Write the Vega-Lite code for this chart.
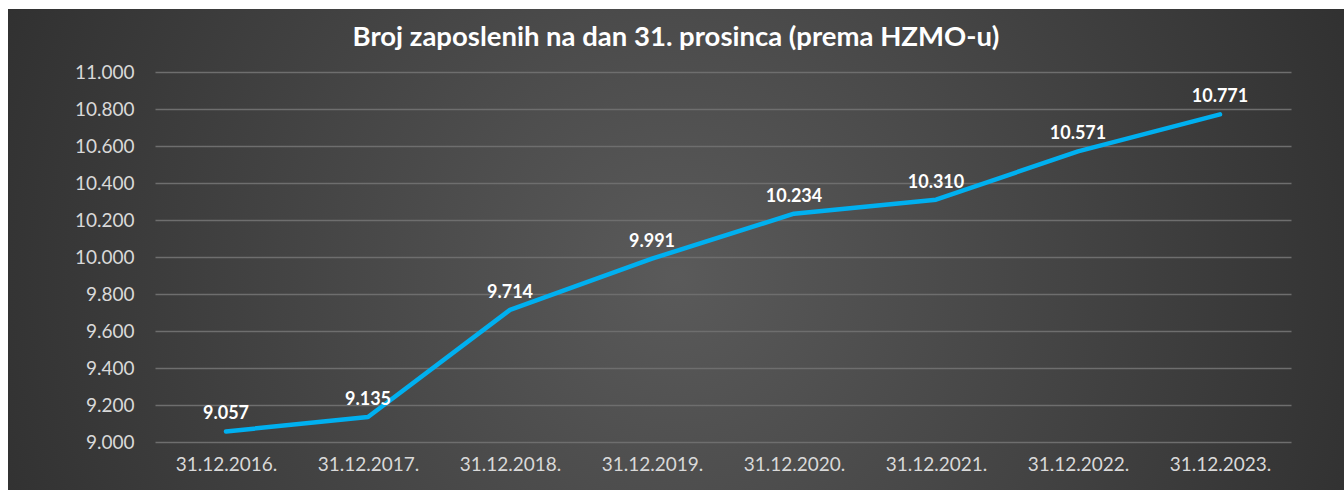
{
  "$schema": "https://vega.github.io/schema/vega-lite/v6.json",
  "width": 1336,
  "height": 481,
  "autosize": "none",
  "padding": {"left": 8, "top": 9, "right": 0, "bottom": 0},
  "background": "white",
  "config": {
    "locale": {"number": {"decimal": ",", "thousands": ".", "grouping": [3], "currency": ["", " €"]}},
    "view": {
      "stroke": null,
      "fill": {
        "gradient": "radial",
        "x1": 0.5, "y1": 0.52, "x2": 0.5, "y2": 0.52, "r1": 0, "r2": 0.75,
        "stops": [{"offset": 0, "color": "#5a5a5a"}, {"offset": 1, "color": "#212121"}]
      }
    },
    "font": "Lato"
  },
  "title": {
    "text": "Broj zaposlenih na dan 31. prosinca (prema HZMO-u)",
    "font": "Lato",
    "fontSize": 27.5,
    "fontWeight": "bold",
    "color": "#ffffff",
    "anchor": "middle",
    "baseline": "middle",
    "offset": -56
  },
  "data": {
    "values": [
      {"date": "31.12.2016.", "value": 9057},
      {"date": "31.12.2017.", "value": 9135},
      {"date": "31.12.2018.", "value": 9714},
      {"date": "31.12.2019.", "value": 9991},
      {"date": "31.12.2020.", "value": 10234},
      {"date": "31.12.2021.", "value": 10310},
      {"date": "31.12.2022.", "value": 10571},
      {"date": "31.12.2023.", "value": 10771}
    ]
  },
  "encoding": {
    "x": {
      "field": "date",
      "type": "ordinal",
      "sort": null,
      "scale": {"type": "point", "padding": 0.5, "range": [147, 1283]},
      "axis": {
        "title": null,
        "orient": "bottom",
        "offset": -48,
        "domain": false,
        "ticks": false,
        "tickSize": 0,
        "grid": false,
        "labelAngle": 0,
        "labelPadding": 13,
        "labelFont": "Lato",
        "labelFontSize": 19,
        "labelColor": "#d9d9d9"
      }
    },
    "y": {
      "field": "value",
      "type": "quantitative",
      "scale": {"domain": [9000, 11000], "range": [433, 63], "nice": false, "zero": false},
      "axis": {
        "title": null,
        "offset": -131,
        "domain": false,
        "ticks": false,
        "tickSize": 0,
        "values": [9000, 9200, 9400, 9600, 9800, 10000, 10200, 10400, 10600, 10800, 11000],
        "format": ",.0f",
        "labelPadding": 5,
        "labelFont": "Lato",
        "labelFontSize": 19,
        "labelColor": "#d9d9d9",
        "grid": true,
        "gridColor": "#6e6e6e",
        "gridWidth": 1.5
      }
    }
  },
  "layer": [
    {
      "mark": {"type": "line", "color": "#00B0F0", "strokeWidth": 4.5, "strokeCap": "round", "strokeJoin": "round"}
    },
    {
      "mark": {"type": "text", "dy": -17, "fontWeight": "bold", "fontSize": 18, "font": "Lato", "color": "#ffffff"},
      "encoding": {"text": {"field": "value", "type": "quantitative", "format": ",.0f"}}
    }
  ]
}
